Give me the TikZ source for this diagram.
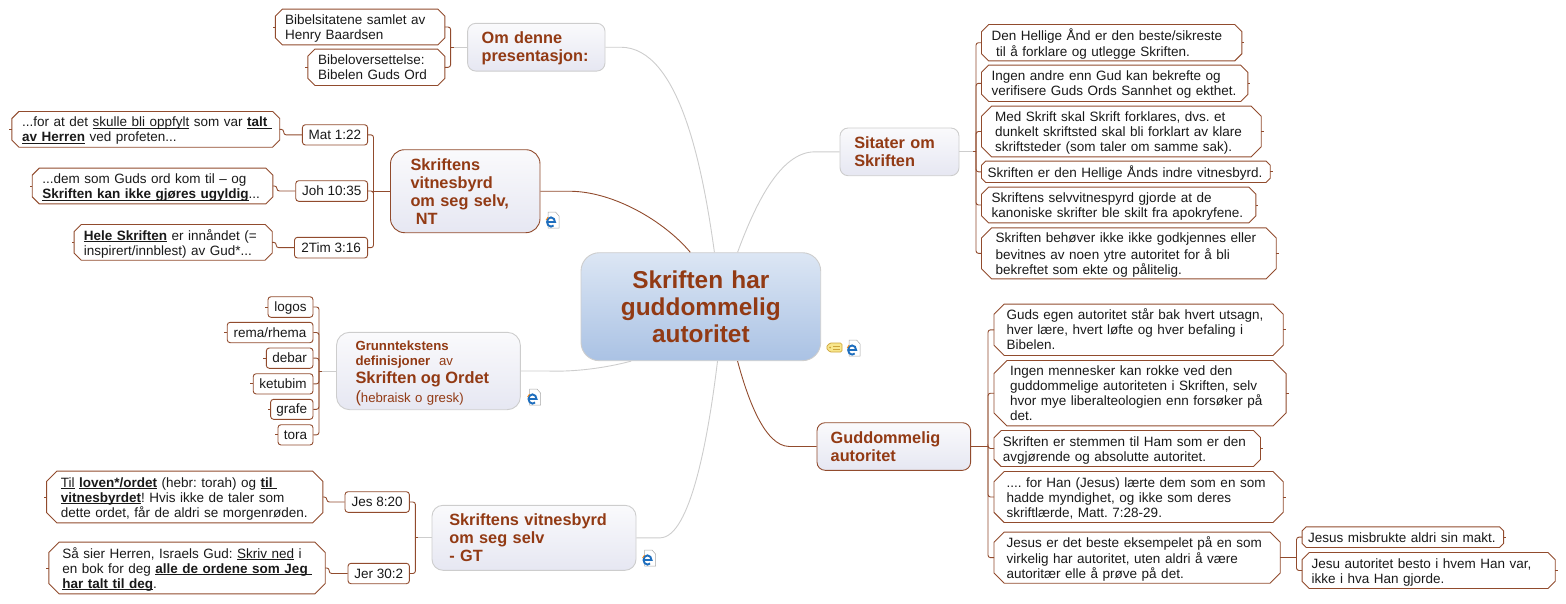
\documentclass[tikz,border=0pt]{standalone}
\usepackage{fontspec}
\setmainfont{Liberation Sans}
\usetikzlibrary{calc}
\definecolor{linkbrown}{RGB}{145, 75, 45}
\definecolor{titlebrown}{RGB}{146, 58, 20}
\definecolor{linkgrey}{RGB}{205, 205, 205}
\definecolor{topiclight}{RGB}{250, 250, 252}
\definecolor{topicdark}{RGB}{230, 231, 242}
\definecolor{mainlight}{RGB}{220, 230, 244}
\definecolor{mainblue}{RGB}{170, 194, 228}
\definecolor{bodyblack}{RGB}{25, 25, 25}
\definecolor{iconblue}{RGB}{30, 110, 190}
\definecolor{tagyellow}{RGB}{248, 230, 140}
\definecolor{tagline}{RGB}{205, 165, 60}
\newcommand{\bodyfont}{\fontsize{13.5}{15}\selectfont\frenchspacing}
\newcommand{\titlefont}{\fontsize{16.3}{18}\selectfont\bfseries\frenchspacing}
\newsavebox{\ulinebox}
\newcommand{\uline}[1]{\leavevmode\sbox{\ulinebox}{#1}\rlap{\rule[-2pt]{\wd\ulinebox}{0.9pt}}\usebox{\ulinebox}}
\newcommand{\ulb}[1]{\uline{\textbf{#1}}}
\tikzset{
  quotebox/.style n args={3}{draw=none, inner sep=0pt,
    minimum width=#1pt, minimum height=#2pt,
    text width={(#1-2*#3)*1pt}, align=left, text=bodyblack, font=\bodyfont,
    execute at begin node={\advance\rightskip by -16pt\strut},
    execute at end node={\strut\par\vspace*{-4pt}},
    append after command={\pgfextra{\draw[draw=linkbrown, line width=0.9pt]
      ($(\tikzlastnode.north west)+({0.2*#2},0)$) -- ($(\tikzlastnode.north east)+({-0.2*#2},0)$)
      -- ($(\tikzlastnode.north east)+(0,{0.2*#2})$) -- ($(\tikzlastnode.south east)+(0,{-0.2*#2})$)
      -- ($(\tikzlastnode.south east)+({-0.2*#2},0)$) -- ($(\tikzlastnode.south west)+({0.2*#2},0)$)
      -- ($(\tikzlastnode.south west)+(0,{-0.2*#2})$) -- ($(\tikzlastnode.north west)+(0,{0.2*#2})$) -- cycle;}}},
  refbox/.style 2 args={draw=linkbrown, fill=white, line width=0.9pt, rounded corners=3pt, inner sep=0pt,
    minimum width=#1pt, minimum height=#2pt, text height=12pt, text depth=3pt, text=bodyblack, font=\bodyfont},
  topicbox/.style n args={3}{draw=linkgrey, top color=topiclight, bottom color=topicdark, line width=0.9pt, inner sep=0pt,
    rounded corners={0.17*#2pt}, minimum width=#1pt, minimum height=#2pt,
    text width={(#1-2*#3)*1pt}, align=left, text=titlebrown, font=\titlefont},
  link/.style={draw=linkbrown, line width=0.9pt, rounded corners=2.5pt},
  greylink/.style={draw=linkgrey, line width=0.9pt},
  docicon/.pic={
    \draw[draw=black!35, fill=white, line width=0.5pt] (2.5,0) -- (10,0) -- (13.5,4) -- (13.5,16) -- (2.5,16) -- cycle;
    \draw[draw=iconblue, line width=1.9pt] (1.5,10) -- (9.5,10) arc[start angle=0, end angle=-310, x radius=4, y radius=4.6];
    \draw[draw=orange, line width=0.7pt] (0.5,8) -- (2.5,5);
  },
  tagicon/.pic={
    \draw[draw=tagline, fill=tagyellow, line width=0.7pt, rounded corners=1.5pt] (0,4.5) -- (3.5,0) -- (16,0) -- (16,9) -- (3.5,9) -- cycle;
    \draw[draw=tagline, line width=0.5pt] (7,3) -- (13.5,3) (7,6) -- (13.5,6);
    \fill[tagline] (4,4.5) circle[radius=1];
  },
}
\begin{document}
\begin{tikzpicture}[x=1pt, y=-1pt]
  \useasboundingbox (0,0) rectangle (1566,603);

  % Centre of the map
  \node[topicbox={239.7}{108}{0}, top color=mainlight, middle color=mainblue, bottom color=mainblue, draw=linkgrey,
    font=\fontsize{24.4}{27}\selectfont\bfseries, align=center] (main) at (700.85,306.7) {Skriften har\\guddommelig\\autoritet};

  % Main topics
  \node[topicbox={137.4}{47.7}{14}, execute at end node={\par\vspace*{-3pt}}] (denne) at (536.3,47.2) {Om denne\\presentasjon:};
  \node[topicbox={149.5}{83}{20}, draw=linkbrown] (nytest) at (465.25,191.2) {Skriftens\\vitnesbyrd\\om seg selv,\\\ NT};
  \node[topicbox={183.9}{77.4}{19}, font=\fontsize{13.2}{15}\selectfont\frenchspacing, execute at end node={\par\vspace*{-5pt}}] (grunn) at (428.45,371) {\textbf{Grunntekstens}\\\textbf{definisjoner}\ \ av\\[2.5pt]{\fontsize{16.4}{18}\selectfont\textbf{Skriften og Ordet}}\\[2.5pt]{\fontsize{16.4}{15}\selectfont(}hebraisk o gresk)};
  \node[topicbox={204}{65}{17.3}] (gamtest) at (534,537.8) {Skriftens vitnesbyrd\\om seg selv\\- GT};
  \node[topicbox={119}{47.7}{14.3}] (sitater) at (899.5,151.85) {Sitater om\\Skriften};
  \node[topicbox={153.6}{47.6}{13.7}, draw=linkbrown] (autor) at (893.8,446.5) {Guddommelig\\autoritet};

  % Om denne presentasjon
  \node[quotebox={169.2}{35.4}{9.5}] (bibelsit) at (360.1,27) {Bibelsitatene samlet av\\Henry Baardsen};
  \node[quotebox={136.7}{36}{10}] (bibelov) at (376.35,67.3) {Bibeloversettelse:\\Bibelen Guds Ord};

  % Vitnesbyrd i NT
  \node[refbox={65.2}{20.3}] (mat) at (335,134.85) {Mat 1:22};
  \node[refbox={71.9}{20.6}] (joh) at (331.65,191) {Joh 10:35};
  \node[refbox={73.1}{20.7}] (tim) at (331.05,247.65) {2Tim 3:16};
  \node[quotebox={267.5}{35.3}{10}] (oppfylt) at (145.75,129.35) {...for at det \uline{skulle bli oppfylt} som var \uline{\textbf{talt}\ }\\\ulb{av Herren} ved profeten...};
  \node[quotebox={240.3}{35.4}{10}] (ugyldig) at (152.55,186) {...dem som Guds ord kom til -- og\\\ulb{Skriften kan ikke gjøres ugyldig}...};
  \node[quotebox={197.7}{35.3}{9.5}] (innandet) at (173.15,242.35) {\ulb{Hele Skriften} er innåndet (=\\inspirert/innblest) av Gud*...};

  % Grunntekstens ord
  \node[refbox={45}{20.6}] (logos) at (290.5,307) {logos};
  \node[refbox={85.8}{20.4}] (rema) at (270.1,332.5) {rema/rhema};
  \node[refbox={46.7}{20.3}] (debar) at (289.65,358.15) {debar};
  \node[refbox={59.8}{20.3}] (ketubim) at (283.1,383.85) {ketubim};
  \node[refbox={42.4}{20}] (grafe) at (291.8,409.3) {grafe};
  \node[refbox={35}{20.3}] (tora) at (295.5,434.85) {tora};

  % Vitnesbyrd i GT
  \node[refbox={64.4}{20.6}] (jes) at (377.2,502) {Jes 8:20};
  \node[refbox={61.4}{20.4}] (jer) at (378.7,573.5) {Jer 30:2};
  \node[quotebox={275.8}{51.4}{14}] (loven) at (184.7,497) {\uline{Til} \ulb{loven*/ordet} (hebr: torah) og \uline{\textbf{til}\ }\\\ulb{vitnesbyrdet}! Hvis ikke de taler som\\dette ordet, får de aldri se morgenrøden.};
  \node[quotebox={276}{51.4}{13.4}] (skrivned) at (187,568) {Så sier Herren, Israels Gud: \uline{Skriv ned} i\\en bok for deg \uline{\textbf{alle de ordene som Jeg}\ }\\\ulb{har talt til deg}.};

  % Sitater om Skriften
  \node[quotebox={260}{36}{10}] (sit1) at (1111.7,42.7) {Den Hellige Ånd er den beste/sikreste\\\ til å forklare og utlegge Skriften.};
  \node[quotebox={266}{36}{10}] (sit2) at (1114.7,83.3) {Ingen andre enn Gud kan bekrefte og\\verifisere Guds Ords Sannhet og ekthet.};
  \node[quotebox={279.3}{50.4}{13.3}] (sit3) at (1121.35,131.5) {Med Skrift skal Skrift forklares, dvs. et\\dunkelt skriftsted skal bli forklart av klare\\skriftsteder (som taler om samme sak).};
  \node[quotebox={288.3}{21}{6}] (sit4) at (1125.85,171.8) {Skriften er den Hellige Ånds indre vitnesbyrd.};
  \node[quotebox={274}{35.4}{10}] (sit5) at (1118.7,205) {Skriftens selvvitnespyrd gjorde at de\\kanoniske skrifter ble skilt fra apokryfene.};
  \node[quotebox={294.3}{50.7}{14}] (sit6) at (1128.85,253.35) {Skriften behøver ikke ikke godkjennes eller\\bevitnes av noen ytre autoritet for å bli\\bekreftet som ekte og pålitelig.};

  % Guddommelig autoritet
  \node[quotebox={288.8}{51}{12.5}] (aut1) at (1138.6,329.8) {Guds egen autoritet står bak hvert utsagn,\\hver lære, hvert løfte og hver befaling i\\Bibelen.};
  \node[quotebox={291.7}{65}{16}] (aut2) at (1140.05,393.2) {Ingen mennesker kan rokke ved den\\guddommelige autoriteten i Skriften, selv\\hvor mye liberalteologien enn forsøker på\\det.};
  \node[quotebox={266.1}{35.6}{8.7}] (aut3) at (1127.25,448.5) {Skriften er stemmen til Ham som er den\\avgjørende og absolutte autoritet.};
  \node[quotebox={288.8}{50.6}{12.5}] (aut4) at (1138.6,497) {.... for Han (Jesus) lærte dem som en som\\hadde myndighet, og ikke som deres\\skriftlærde, Matt. 7:28-29.};
  \node[quotebox={285.8}{50.7}{12.5}] (aut5) at (1137.1,557.65) {Jesus er det beste eksempelet på en som\\virkelig har autoritet, uten aldri å være\\autoritær elle å prøve på det.};
  \node[quotebox={201.1}{20.3}{5.8}] (misbruk) at (1402.85,537.15) {Jesus misbrukte aldri sin makt.};
  \node[quotebox={252.7}{35.6}{9.2}] (besto) at (1428.65,570.5) {Jesu autoritet besto i hvem Han var,\\ikke i hva Han gjorde.};

  % Bracket points
  \coordinate (brkdenne) at (450.6,47.2);
  \coordinate (brknt) at (373.5,191.2);
  \coordinate (brkgrunn) at (319,371);
  \coordinate (brkgt) at (415.4,537.8);
  \coordinate (brksit) at (976,151.85);
  \coordinate (brkaut) at (988,446.5);
  \coordinate (brkjesus) at (1296.5,557.65);

  % Curved links to the centre
  \draw[greylink] (denne.east) -- ++(15,0) .. controls (680,47) and (703,170) .. (main.76);
  \draw[link] (nytest.east) -- ++(28,0) .. controls (615,192) and (665,222) .. (main.101.5);
  \draw[greylink] (grunn.east) -- ++(27,0) .. controls (575,372) and (605,368) .. (main.218);
  \draw[greylink] (gamtest.east) -- ++(24,0) .. controls (690,537) and (708,440) .. (main.-73.5);
  \draw[greylink] (sitater.west) -- ++(-25,0) .. controls (780,152) and (755,205) .. (main.56);
  \draw[link] (autor.west) -- ++(-25,0) .. controls (765,446) and (748,400) .. (main.-56.3);

  % Brackets
  \draw[greylink] (denne.west) -- (brkdenne);
  \draw[link] (nytest.west) -- (brknt);
  \draw[greylink] (grunn.west) -- (brkgrunn);
  \draw[greylink] (gamtest.west) -- (brkgt);
  \draw[greylink] (sitater.east) -- (brksit);
  \draw[link] (autor.east) -- (brkaut);
  \draw[link] (aut5.east) -- (brkjesus);
  \foreach \from/\sgn in {brkdenne/1, brkgrunn/1, brkgt/1, brksit/-1}
    \draw[link] (\from) -- ++(\sgn*3,0);
  \foreach \child in {bibelsit, bibelov}
    \draw[link] (brkdenne) |- (\child.east);
  \foreach \child in {mat, joh, tim}
    \draw[link] (brknt) |- (\child.east);
  \foreach \child in {logos, rema, debar, ketubim, grafe, tora}
    \draw[link] (brkgrunn) |- (\child.east);
  \foreach \child in {jes, jer}
    \draw[link] (brkgt) |- (\child.east);
  \foreach \child in {sit1, sit2, sit3, sit4, sit5, sit6}
    \draw[link] (brksit) |- (\child.west);
  \foreach \child in {aut1, aut2, aut3, aut4, aut5}
    \draw[link] (brkaut) |- (\child.west);
  \foreach \child in {misbruk, besto}
    \draw[link] (brkjesus) |- (\child.west);

  % Verse to quote
  \foreach \verse/\quote in {mat/oppfylt, joh/ugyldig, tim/innandet, jes/loven, jer/skrivned}
    \draw[link] (\verse.west) -| ($(\quote.east)+(4,0)$) -- (\quote.east);

  % Small end ticks
  \foreach \leaf in {bibelsit, bibelov, oppfylt, ugyldig, innandet, logos, rema, debar, ketubim, grafe, tora, loven, skrivned}
    \draw[link] (\leaf.west) -- ++(-2.5,0);
  \foreach \leaf in {sit1, sit2, sit3, sit4, sit5, sit6, aut1, aut2, aut3, aut4, misbruk, besto}
    \draw[link] (\leaf.east) -- ++(2.5,0);

  % Icons
  \pic at (545.5,212) {docicon};
  \pic at (527,389) {docicon};
  \pic at (642,550) {docicon};
  \pic at (846.6,340) {docicon};
  \pic at (826,343) {tagicon};
\end{tikzpicture}
\end{document}
